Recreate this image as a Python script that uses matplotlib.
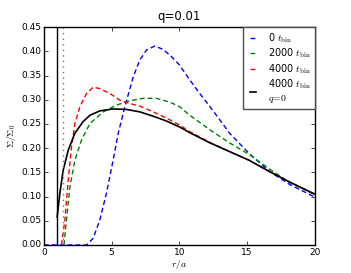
import numpy as np
import matplotlib
matplotlib.use("Agg")
import matplotlib.pyplot as plt

plt.style.use("classic")
plt.rcParams["font.size"] = 7
plt.rcParams["mathtext.fontset"] = "cm"

# surface density profiles
r_blue = [0.0, 3.15, 3.64, 4.13, 4.62, 5.11, 5.49, 5.98, 6.59, 7.08, 7.58, 8.19, 8.8, 9.42, 10.0,
          10.77, 11.5, 12.25, 13.0, 13.7, 15.15, 16.7, 18.2, 20.0]
s_blue = [0.0, 0.0, 0.014, 0.052, 0.107, 0.175, 0.231, 0.286, 0.347, 0.382, 0.403, 0.411, 0.404, 0.389,
          0.372, 0.341, 0.313, 0.286, 0.258, 0.231, 0.189, 0.151, 0.124, 0.099]

r_green = [1.48, 1.67, 1.92, 2.29, 2.78, 3.4, 4.38, 5.36, 6.35, 7.33, 8.3, 9.3, 10.0, 10.77,
           12.25, 13.7, 15.15, 16.7, 18.2, 20.0]
s_green = [0.0, 0.052, 0.12, 0.175, 0.217, 0.251, 0.275, 0.289, 0.298, 0.303, 0.303, 0.295, 0.286, 0.268,
           0.238, 0.211, 0.187, 0.156, 0.128, 0.105]

r_red = [1.3, 1.55, 1.8, 2.04, 2.29, 2.66, 3.15, 3.64, 4.13, 4.87, 5.61, 6.35, 7.08, 8.07, 9.05,
         10.0, 10.77, 12.25, 13.7, 15.15, 16.5, 18.0, 20.0]
s_red = [0.0, 0.052, 0.134, 0.203, 0.251, 0.286, 0.313, 0.326, 0.323, 0.313, 0.299, 0.292, 0.287, 0.275,
         0.262, 0.248, 0.234, 0.212, 0.193, 0.175, 0.154, 0.132, 0.104]

r_black = [0.98, 1.18, 1.43, 1.8, 2.29, 2.9, 3.4, 4.13, 5.1, 6.1, 7.08, 8.07, 9.05, 10.0, 10.77,
           12.25, 13.7, 15.15, 16.5, 18.0, 20.0]
s_black = [0.058, 0.107, 0.155, 0.196, 0.231, 0.255, 0.268, 0.277, 0.281, 0.280, 0.275, 0.266, 0.256,
           0.244, 0.232, 0.211, 0.193, 0.175, 0.154, 0.132, 0.105]

r_in = 1.0
r_hill = 1.42

fig = plt.figure(figsize=(3.51, 2.73), dpi=100, facecolor="white")
ax = fig.add_axes([0.125, 0.1026, 0.772, 0.798])

dash = (3.5, 2.2)
ax.plot(r_blue, s_blue, "b--", lw=1, dashes=dash, label=r"0 $t_{\rm bin}$")
ax.plot(r_green, s_green, "g--", lw=1, dashes=dash, label=r"2000 $t_{\rm bin}$")
ax.plot(r_red, s_red, "r--", lw=1, dashes=dash, label=r"4000 $t_{\rm bin}$")
ax.plot(r_black, s_black, "k-", lw=1.2, label="4000 $t_{\\rm bin}$\n$q\\!=\\!0$")
ax.axvline(r_in, color="k", lw=1)
ax.axvline(r_hill, color="0.45", ls=":", lw=1)

ax.set_xlim(0, 20)
ax.set_ylim(0, 0.45)
ax.set_xticks([0, 5, 10, 15, 20])
ax.set_yticks(np.arange(0, 0.451, 0.05))
ax.set_xlabel(r"$r/a$", labelpad=1)
ax.set_ylabel(r"$\Sigma/\Sigma_0$", labelpad=2)
ax.set_title("q=0.01", fontsize=8.5, y=1.0)
ax.tick_params(labelsize=6.5, length=3, pad=2)

leg = ax.legend(loc="upper right", fontsize=7, handlelength=1.2, borderaxespad=0.0,
                labelspacing=0.2, handletextpad=1.0, borderpad=0.4)
leg.get_frame().set_edgecolor("0.3")

fig.savefig("out.png", dpi=100, facecolor="white")
